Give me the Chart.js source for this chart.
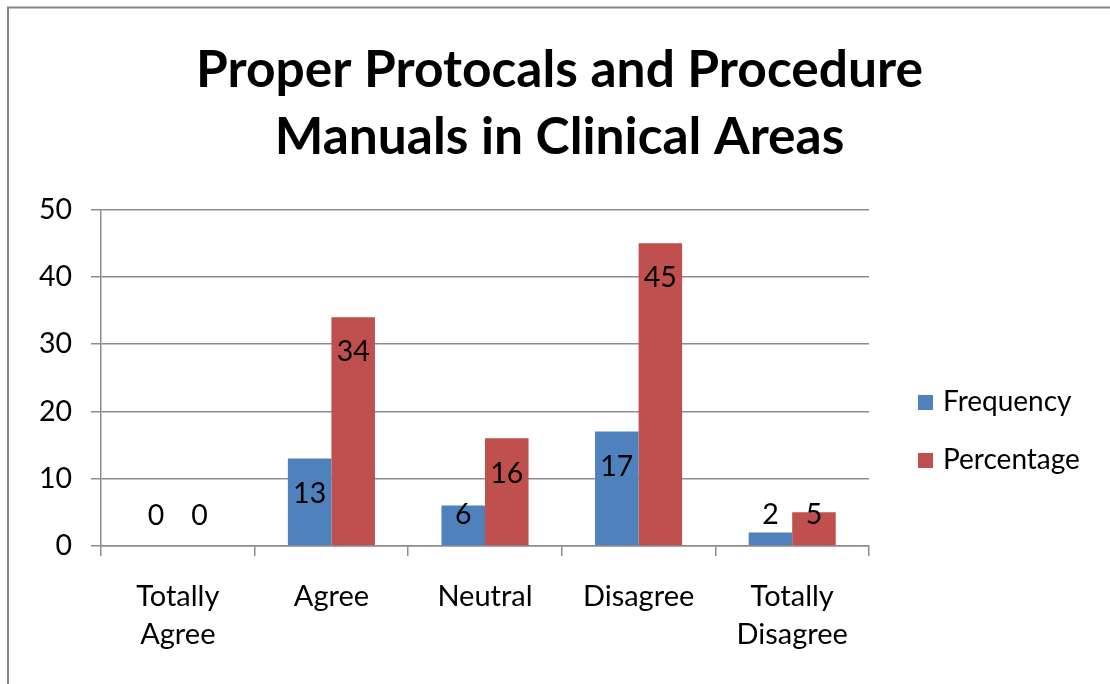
<!DOCTYPE html>
<html>
<head>
<meta charset="utf-8">
<script src="https://cdn.jsdelivr.net/npm/chart.js@4.4.0/dist/chart.umd.min.js"></script>
<style>
  html, body { margin: 0; padding: 0; background: #fff; }
  #wrap { width: 1110px; height: 684px; position: relative; }
</style>
</head>
<body>
<div id="wrap"><canvas id="c" width="1110" height="684"></canvas></div>
<script>
const titleLines = ["Proper Protocals and Procedure", "Manuals in Clinical Areas"];
const categories = [["Totally", "Agree"], "Agree", "Neutral", "Disagree", ["Totally", "Disagree"]];
const seriesNames = ["Frequency", "Percentage"];
const frequency = [0, 13, 6, 17, 2];
const percentage = [0, 34, 16, 45, 5];
const yMin = 0, yMax = 50, yStep = 10;

const FONT = "Lato, 'Open Sans', sans-serif";
const GRID = "#8c8c8c";
const COLORS = ["#4F81BD", "#C0504D"];

const framePlugin = {
  id: "frame",
  beforeDraw(chart) {
    const ctx = chart.ctx;
    ctx.save();
    ctx.fillStyle = "#fff";
    ctx.fillRect(0, 0, chart.width, chart.height);
    ctx.strokeStyle = "#858585";
    ctx.lineWidth = 2;
    ctx.beginPath();
    ctx.moveTo(8, chart.height + 5);
    ctx.lineTo(8, 7.5);
    ctx.lineTo(chart.width + 5, 7.5);
    ctx.stroke();
    ctx.restore();
  }
};

const titlePlugin = {
  id: "customTitle",
  afterDraw(chart) {
    const ctx = chart.ctx;
    ctx.save();
    ctx.fillStyle = "#000";
    ctx.font = "bold 51.5px " + FONT;
    ctx.textAlign = "center";
    ctx.textBaseline = "alphabetic";
    ctx.fillText(titleLines[0], 559.5, 87);
    ctx.fillText(titleLines[1], 559.5, 154);
    ctx.restore();
  }
};

const labelPlugin = {
  id: "barLabels",
  afterDatasetsDraw(chart) {
    const ctx = chart.ctx;
    ctx.save();
    ctx.fillStyle = "#000";
    ctx.font = "28.5px " + FONT;
    ctx.textAlign = "center";
    ctx.textBaseline = "middle";
    chart.data.datasets.forEach((ds, di) => {
      const meta = chart.getDatasetMeta(di);
      meta.data.forEach((el, i) => {
        const y = Math.min(el.y + 35, el.base - 30);
        ctx.fillText(String(ds.data[i]), el.x, y);
      });
    });
    ctx.restore();
  }
};

const legendPlugin = {
  id: "customLegend",
  afterDraw(chart) {
    const ctx = chart.ctx;
    ctx.save();
    ctx.font = "28px " + FONT;
    ctx.textAlign = "left";
    ctx.textBaseline = "middle";
    const ys = [402, 460];
    chart.data.datasets.forEach((ds, i) => {
      ctx.fillStyle = ds.backgroundColor;
      ctx.fillRect(918, ys[i] - 7, 15, 15);
      ctx.fillStyle = "#000";
      ctx.fillText(ds.label, 943, ys[i]);
    });
    ctx.restore();
  }
};

new Chart(document.getElementById("c"), {
  type: "bar",
  data: {
    labels: categories,
    datasets: [
      { label: seriesNames[0], data: frequency, backgroundColor: COLORS[0], borderWidth: 0 },
      { label: seriesNames[1], data: percentage, backgroundColor: COLORS[1], borderWidth: 0 }
    ]
  },
  options: {
    responsive: false,
    devicePixelRatio: 1,
    animation: false,
    layout: { padding: { top: 209.5, right: 241, left: 0, bottom: 0 } },
    plugins: {
      legend: { display: false },
      title: { display: false },
      tooltip: { enabled: false }
    },
    datasets: { bar: { categoryPercentage: 0.567, barPercentage: 1 } },
    scales: {
      x: {
        offset: true,
        grid: { offset: true, drawOnChartArea: false, tickLength: 10, color: GRID, lineWidth: 1.5 },
        border: { color: GRID, width: 1.5 },
        ticks: { font: { family: FONT, size: 29, lineHeight: 1.31 }, color: "#000", padding: 22, maxRotation: 0 },
        afterFit(s) { s.height = 138; }
      },
      y: {
        min: yMin, max: yMax,
        grid: { color: GRID, lineWidth: 1.5, tickLength: 10 },
        border: { color: GRID, width: 1.5 },
        ticks: { stepSize: yStep, font: { family: FONT, size: 28.5 }, color: "#000", padding: 19 },
        afterFit(s) { s.width = 101; }
      }
    }
  },
  plugins: [framePlugin, titlePlugin, labelPlugin, legendPlugin]
});
</script>
</body>
</html>
